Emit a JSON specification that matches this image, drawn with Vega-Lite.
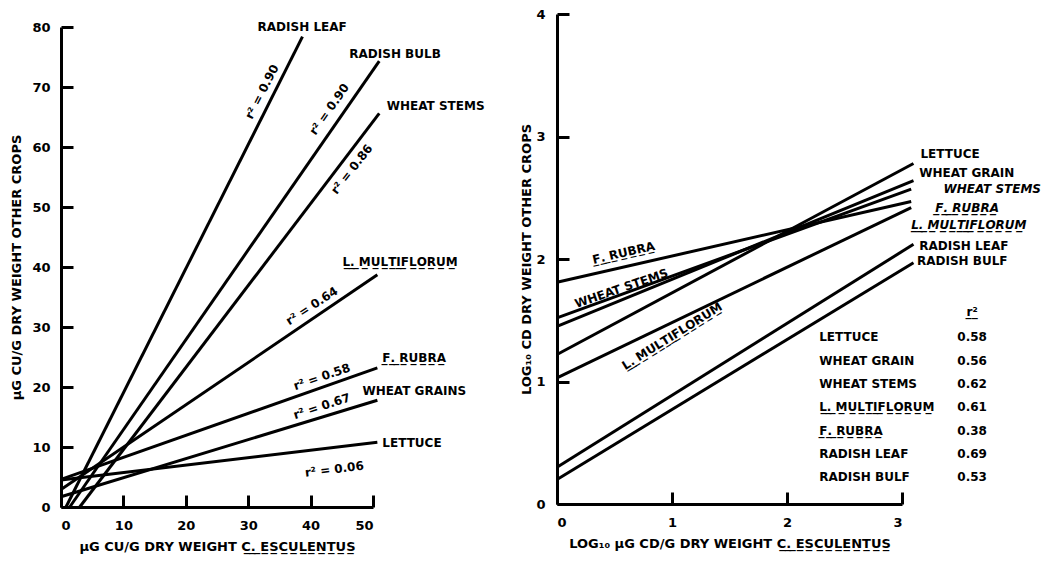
{
  "$schema": "https://vega.github.io/schema/vega-lite/v6.json",
  "background": "white",
  "padding": {"left": 10, "top": 8, "right": 5, "bottom": 5},
  "spacing": 184,
  "bounds": "flush",
  "config": {
    "view": {"stroke": null},
    "axis": {
      "grid": false,
      "domainColor": "black",
      "domainWidth": 3,
      "tickColor": "black",
      "tickWidth": 3,
      "tickSize": -12,
      "labelFont": "DejaVu Sans",
      "labelFontWeight": "bold",
      "labelFontSize": 13,
      "labelColor": "black",
      "titleFont": "DejaVu Sans",
      "titleFontWeight": "bold",
      "titleFontSize": 13,
      "titleColor": "black"
    },
    "text": {"font": "DejaVu Sans", "fontWeight": "bold", "fontSize": 12, "color": "black"}
  },
  "hconcat": [
    {
      "width": 312,
      "height": 493,
      "encoding": {
        "x": {"field": "x", "type": "quantitative",
              "scale": {"domain": [0, 50], "nice": false, "zero": false},
              "axis": {"values": [0, 10, 20, 30, 40, 50], "labelPadding": 24, "titlePadding": 8,
                       "title": "\u03bcG CU/G DRY WEIGHT C\u0332.\u0332 \u0332E\u0332S\u0332C\u0332U\u0332L\u0332E\u0332N\u0332T\u0332U\u0332S\u0332"}},
        "y": {"field": "y", "type": "quantitative",
              "scale": {"domain": [0, 80], "nice": false, "zero": false, "range": [493, 13]},
              "axis": {"values": [0, 10, 20, 30, 40, 50, 60, 70, 80], "labelPadding": 23, "titlePadding": 8,
                       "title": "\u03bcG CU/G DRY WEIGHT OTHER CROPS"}}
      },
      "layer": [
        {
          "data": {"values": [
            {"crop": "Lettuce", "x": 0, "y": 4.5}, {"crop": "Lettuce", "x": 50.7, "y": 10.8},
            {"crop": "Wheat grains", "x": 0, "y": 1.7}, {"crop": "Wheat grains", "x": 50.7, "y": 17.8},
            {"crop": "F. rubra", "x": 0, "y": 4.6}, {"crop": "F. rubra", "x": 50.7, "y": 23.2},
            {"crop": "L. multiflorum", "x": 0, "y": 2.9}, {"crop": "L. multiflorum", "x": 50.7, "y": 38.7},
            {"crop": "Radish leaf", "x": 0.8, "y": 0}, {"crop": "Radish leaf", "x": 38.7, "y": 78.4},
            {"crop": "Radish bulb", "x": 1.4, "y": 0}, {"crop": "Radish bulb", "x": 51, "y": 74.3},
            {"crop": "Wheat stems", "x": 3.0, "y": 0}, {"crop": "Wheat stems", "x": 51, "y": 65.6}
          ]},
          "mark": {"type": "line", "color": "black", "strokeWidth": 3},
          "encoding": {"detail": {"field": "crop"}}
        },
        {
          "data": {"values": [
            {"label": "RADISH LEAF", "x": 31.5, "y": 80},
            {"label": "RADISH BULB", "x": 46.2, "y": 75.5},
            {"label": "WHEAT STEMS", "x": 52.2, "y": 66.8},
            {"label": "L\u0332.\u0332 \u0332M\u0332U\u0332L\u0332T\u0332I\u0332F\u0332L\u0332O\u0332R\u0332U\u0332M\u0332", "x": 45.1, "y": 40.8},
            {"label": "F\u0332.\u0332 \u0332R\u0332U\u0332B\u0332R\u0332A\u0332", "x": 51.5, "y": 24.8},
            {"label": "WHEAT GRAINS", "x": 48.3, "y": 19.3},
            {"label": "LETTUCE", "x": 51.5, "y": 10.7}
          ]},
          "mark": {"type": "text", "align": "left", "baseline": "middle"},
          "encoding": {"text": {"field": "label"}}
        },
        {"data": {"values": [{"label": "r\u00b2 = 0.90", "x": 32.2, "y": 69.2}]},
         "mark": {"type": "text", "angle": 297, "align": "center", "baseline": "middle", "fontSize": 12},
         "encoding": {"text": {"field": "label"}}},
        {"data": {"values": [{"label": "r\u00b2 = 0.90", "x": 43.0, "y": 66.3}]},
         "mark": {"type": "text", "angle": 305, "align": "center", "baseline": "middle", "fontSize": 12},
         "encoding": {"text": {"field": "label"}}},
        {"data": {"values": [{"label": "r\u00b2 = 0.86", "x": 46.6, "y": 56.3}]},
         "mark": {"type": "text", "angle": 308, "align": "center", "baseline": "middle", "fontSize": 12},
         "encoding": {"text": {"field": "label"}}},
        {"data": {"values": [{"label": "r\u00b2 = 0.64", "x": 40.2, "y": 33.5}]},
         "mark": {"type": "text", "angle": 327, "align": "center", "baseline": "middle", "fontSize": 12},
         "encoding": {"text": {"field": "label"}}},
        {"data": {"values": [{"label": "r\u00b2 = 0.58", "x": 41.8, "y": 21.7}]},
         "mark": {"type": "text", "angle": 341, "align": "center", "baseline": "middle", "fontSize": 12},
         "encoding": {"text": {"field": "label"}}},
        {"data": {"values": [{"label": "r\u00b2 = 0.67", "x": 41.8, "y": 16.8}]},
         "mark": {"type": "text", "angle": 342, "align": "center", "baseline": "middle", "fontSize": 12},
         "encoding": {"text": {"field": "label"}}},
        {"data": {"values": [{"label": "r\u00b2 = 0.06", "x": 43.8, "y": 6.3}]},
         "mark": {"type": "text", "angle": 353, "align": "center", "baseline": "middle", "fontSize": 12},
         "encoding": {"text": {"field": "label"}}}
      ]
    },
    {
      "width": 345,
      "height": 490,
      "encoding": {
        "x": {"field": "x", "type": "quantitative",
              "scale": {"domain": [0, 3], "nice": false, "zero": false},
              "axis": {"values": [0, 1, 2, 3], "labelPadding": 24, "titlePadding": 8,
                       "title": "LOG\u2081\u2080 \u03bcG CD/G DRY WEIGHT C\u0332.\u0332 \u0332E\u0332S\u0332C\u0332U\u0332L\u0332E\u0332N\u0332T\u0332U\u0332S\u0332"}},
        "y": {"field": "y", "type": "quantitative",
              "scale": {"domain": [0, 4], "nice": false, "zero": false},
              "axis": {"values": [0, 1, 2, 3, 4], "labelPadding": 24, "titlePadding": 2,
                       "title": "LOG\u2081\u2080 CD DRY WEIGHT OTHER CROPS"}}
      },
      "layer": [
        {
          "data": {"values": [
            {"crop": "Lettuce", "x": 0, "y": 1.22}, {"crop": "Lettuce", "x": 3.1, "y": 2.78},
            {"crop": "Wheat grain", "x": 0, "y": 1.45}, {"crop": "Wheat grain", "x": 3.1, "y": 2.64},
            {"crop": "Wheat stems", "x": 0, "y": 1.52}, {"crop": "Wheat stems", "x": 3.08, "y": 2.57},
            {"crop": "F. rubra", "x": 0, "y": 1.81}, {"crop": "F. rubra", "x": 3.08, "y": 2.47},
            {"crop": "L. multiflorum", "x": 0, "y": 1.03}, {"crop": "L. multiflorum", "x": 3.08, "y": 2.42},
            {"crop": "Radish leaf", "x": 0, "y": 0.30}, {"crop": "Radish leaf", "x": 3.1, "y": 2.12},
            {"crop": "Radish bulb", "x": 0, "y": 0.20}, {"crop": "Radish bulb", "x": 3.1, "y": 1.97}
          ]},
          "mark": {"type": "line", "color": "black", "strokeWidth": 3},
          "encoding": {"detail": {"field": "crop"}}
        },
        {
          "data": {"values": [
            {"label": "LETTUCE", "x": 3.16, "y": 2.86},
            {"label": "WHEAT GRAIN", "x": 3.15, "y": 2.70},
            {"label": "RADISH LEAF", "x": 3.15, "y": 2.11},
            {"label": "RADISH BULF", "x": 3.13, "y": 1.98},
            {"label": "LETTUCE", "x": 2.28, "y": 1.36},
            {"label": "WHEAT GRAIN", "x": 2.28, "y": 1.17},
            {"label": "WHEAT STEMS", "x": 2.28, "y": 0.98},
            {"label": "L\u0332.\u0332 \u0332M\u0332U\u0332L\u0332T\u0332I\u0332F\u0332L\u0332O\u0332R\u0332U\u0332M\u0332", "x": 2.28, "y": 0.79},
            {"label": "F\u0332.\u0332 \u0332R\u0332U\u0332B\u0332R\u0332A\u0332", "x": 2.28, "y": 0.60},
            {"label": "RADISH LEAF", "x": 2.28, "y": 0.41},
            {"label": "RADISH BULF", "x": 2.28, "y": 0.22}
          ]},
          "mark": {"type": "text", "align": "left", "baseline": "middle"},
          "encoding": {"text": {"field": "label"}}
        },
        {
          "data": {"values": [
            {"label": "WHEAT STEMS", "x": 3.36, "y": 2.57},
            {"label": "F\u0332.\u0332 \u0332R\u0332U\u0332B\u0332R\u0332A\u0332", "x": 3.29, "y": 2.42},
            {"label": "L\u0332.\u0332 \u0332M\u0332U\u0332L\u0332T\u0332I\u0332F\u0332L\u0332O\u0332R\u0332U\u0332M\u0332", "x": 3.08, "y": 2.28}
          ]},
          "mark": {"type": "text", "align": "left", "baseline": "middle", "fontStyle": "italic"},
          "encoding": {"text": {"field": "label"}}
        },
        {
          "data": {"values": [
            {"label": "r\u0332\u00b2\u0332", "x": 3.61, "y": 1.57},
            {"label": "0.58", "x": 3.61, "y": 1.36},
            {"label": "0.56", "x": 3.61, "y": 1.17},
            {"label": "0.62", "x": 3.61, "y": 0.98},
            {"label": "0.61", "x": 3.61, "y": 0.79},
            {"label": "0.38", "x": 3.61, "y": 0.60},
            {"label": "0.69", "x": 3.61, "y": 0.41},
            {"label": "0.53", "x": 3.61, "y": 0.22}
          ]},
          "mark": {"type": "text", "align": "center", "baseline": "middle"},
          "encoding": {"text": {"field": "label"}}
        },
        {"data": {"values": [{"label": "F\u0332.\u0332 \u0332R\u0332U\u0332B\u0332R\u0332A\u0332", "x": 0.58, "y": 2.05}]},
         "mark": {"type": "text", "angle": 347, "align": "center", "baseline": "middle"},
         "encoding": {"text": {"field": "label"}}},
        {"data": {"values": [{"label": "WHEAT STEMS", "x": 0.56, "y": 1.76}]},
         "mark": {"type": "text", "angle": 341, "align": "center", "baseline": "middle"},
         "encoding": {"text": {"field": "label"}}},
        {"data": {"values": [{"label": "L\u0332.\u0332 \u0332M\u0332U\u0332L\u0332T\u0332I\u0332F\u0332L\u0332O\u0332R\u0332U\u0332M\u0332", "x": 1.0, "y": 1.37}]},
         "mark": {"type": "text", "angle": 328, "align": "center", "baseline": "middle"},
         "encoding": {"text": {"field": "label"}}}
      ]
    }
  ]
}
